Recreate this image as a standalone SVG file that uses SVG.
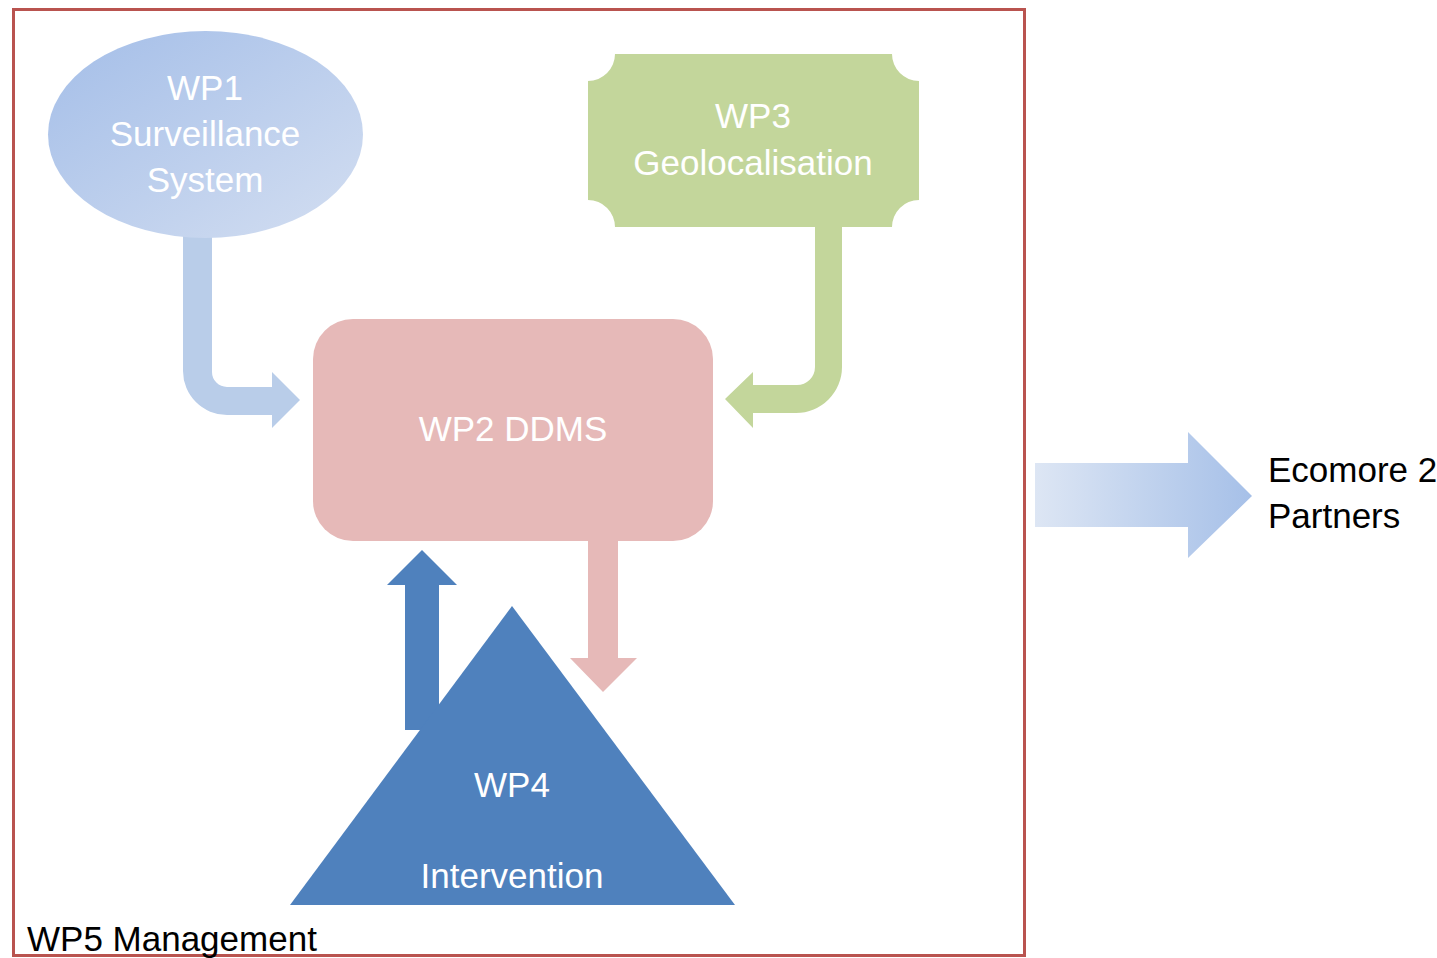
<svg xmlns="http://www.w3.org/2000/svg" width="1437" height="958" viewBox="0 0 1437 958">
  <defs>
    <linearGradient id="gBlue" x1="0" y1="0" x2="1" y2="1">
      <stop offset="0" stop-color="#a4bee8"/>
      <stop offset="1" stop-color="#d3def1"/>
    </linearGradient>
    <linearGradient id="gRight" x1="0" y1="0" x2="1" y2="0">
      <stop offset="0" stop-color="#dde6f4"/>
      <stop offset="1" stop-color="#a6c0e8"/>
    </linearGradient>
    <style>
      .lbl { font-family: "Liberation Sans", Arial, sans-serif; font-size: 35px; fill: #ffffff; text-anchor: middle; }
      .blk { font-family: "Liberation Sans", Arial, sans-serif; font-size: 35px; fill: #000000; }
    </style>
  </defs>
  <rect x="0" y="0" width="1437" height="958" fill="#ffffff"/>
  <g id="frame">
    <rect x="13.5" y="9.5" width="1011" height="946" fill="none" stroke="#b9534f" stroke-width="3"/>
    <text class="blk" x="27" y="951">WP5 Management</text>
  </g>
  <g id="connectors">
    <path id="c-wp1-wp2" fill="#b9cde9" d="M183,230 L183,371 A44,44 0 0 0 227,415 L272,415 L272,428 L300,400 L272,372 L272,387 L227,387 A15,15 0 0 1 212,372 L212,230 Z"/>
    <path id="c-wp3-wp2" fill="#c3d69b" d="M842,222 L842,367 A46,46 0 0 1 796,413 L753,413 L753,428 L725,399 L753,372 L753,385 L797,385 A18,18 0 0 0 815,367 L815,222 Z"/>
    <path id="c-wp2-wp4" fill="#e6b9b8" d="M588,536 L588,658 L570,658 L603,692 L637,658 L618,658 L618,536 Z"/>
    <path id="c-wp4-wp2" fill="#4f81bd" d="M405,730 L405,585 L387,585 L422,550 L457,585 L439,585 L439,730 Z"/>
    <path id="c-out" fill="url(#gRight)" d="M1035,463 L1188,463 L1188,432 L1252,496 L1188,558 L1188,527 L1035,527 Z"/>
  </g>
  <g id="wp1">
    <ellipse cx="205.5" cy="134.5" rx="157.5" ry="103.5" fill="url(#gBlue)"/>
    <text class="lbl" x="205" y="100">WP1</text>
    <text class="lbl" x="205" y="146">Surveillance</text>
    <text class="lbl" x="205" y="192">System</text>
  </g>
  <g id="wp3">
    <path fill="#c3d69b" d="M615,54 L892,54 A27,27 0 0 0 919,81 L919,200 A27,27 0 0 0 892,227 L615,227 A27,27 0 0 0 588,200 L588,81 A27,27 0 0 0 615,54 Z"/>
    <text class="lbl" x="753" y="128">WP3</text>
    <text class="lbl" x="753" y="175">Geolocalisation</text>
  </g>
  <g id="wp2">
    <rect x="313" y="319" width="400" height="222" rx="40" ry="40" fill="#e6b9b8"/>
    <text class="lbl" x="513" y="441">WP2 DDMS</text>
  </g>
  <g id="wp4">
    <polygon points="512,606 735,905 290,905" fill="#4f81bd"/>
    <text class="lbl" x="512" y="797">WP4</text>
    <text class="lbl" x="512" y="888">Intervention</text>
  </g>
  <g id="partners">
    <text class="blk" x="1268" y="482">Ecomore 2</text>
    <text class="blk" x="1268" y="528">Partners</text>
  </g>
</svg>
